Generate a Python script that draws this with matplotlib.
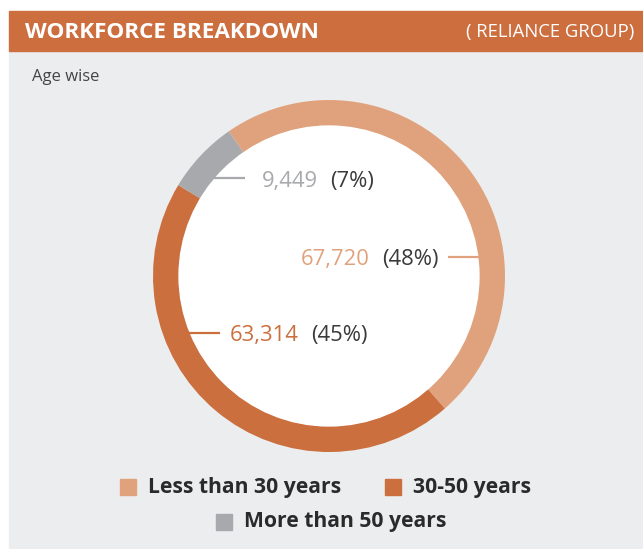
import numpy as np
import matplotlib.pyplot as plt
from matplotlib.patches import Rectangle, Circle
from matplotlib.offsetbox import TextArea, HPacker, AnnotationBbox

plt.rcParams['font.family'] = ['Open Sans', 'DejaVu Sans']

# Workforce by age group
groups = ['Less than 30 years', '30-50 years', 'More than 50 years']
headcount = [67720, 63314, 9449]
share_pct = [48, 45, 7]
colors = ['#E0A27C', '#CB6F3E', '#A7A9AC']

# where each label's leader line meets the ring (degrees) and which side the text sits on
label_angle = [7.3, 202.3, 139.2]
label_side = ['left', 'right', 'right']

W, H = 643, 549
fig = plt.figure(figsize=(W / 100, H / 100), dpi=100)
fig.patch.set_facecolor('white')

def px(x, y):
    return x / W, 1 - y / H

# background panel and header bar
fig.patches.append(Rectangle(px(9, 549), (W - 9) / W, (549 - 51) / H,
                             transform=fig.transFigure, color='#ECEDEF', zorder=-2))
fig.patches.append(Rectangle(px(9, 51), (W - 9) / W, 40 / H,
                             transform=fig.transFigure, color='#CC6E3E', zorder=-2))
fig.text(*px(25, 32), 'WORKFORCE BREAKDOWN', color='white', fontsize=16.2,
         fontweight='bold', va='center', ha='left')
fig.text(*px(634, 32), '( RELIANCE GROUP)', color='white', fontsize=13.3,
         va='center', ha='right')
fig.text(*px(32, 77), 'Age wise', color='#444444', fontsize=12, va='center', ha='left')

# donut
cx, cy, R = 329, 276, 176
ax = fig.add_axes([(cx - R) / W, 1 - (cy + R) / H, 2 * R / W, 2 * R / H])
ax.set_zorder(2)

ring = 0.148
ax.pie(headcount, colors=colors, radius=1, startangle=124.7, counterclock=False,
       wedgeprops=dict(width=ring, linewidth=0))
# pie() resets the limits, so set them afterwards
ax.set_xlim(-1, 1)
ax.set_ylim(-1, 1)
ax.set_aspect('equal')
ax.axis('off')
inner = 1 - ring
ax.add_patch(Circle((0, 0), inner, color='white', zorder=1))

line_len = 30 / R
text_drop = 3 / R
for val, pct, col, ang, side in zip(headcount, share_pct, colors, label_angle, label_side):
    a = np.deg2rad(ang)
    x0, y0 = inner * np.cos(a), inner * np.sin(a)
    if side == 'left':
        x1 = x0 - line_len
        tx, align = x1 - 9 / R, 1.0
    else:
        x1 = x0 + line_len
        gap = 16 / R if pct == 7 else 9 / R
        tx, align = x1 + gap, 0.0
    ax.plot([x0 + (0.02 if side == 'left' else -0.02), x1], [y0, y0], color=col, lw=1.6,
            solid_capstyle='butt', zorder=2)
    box = HPacker(children=[
        TextArea(f'{val:,}', textprops=dict(color=col, fontsize=15.8)),
        TextArea(f'({pct}%)', textprops=dict(color='#3A3A3A', fontsize=15.8)),
    ], align='center', pad=0, sep=9)
    ab = AnnotationBbox(box, (tx, y0 - text_drop), box_alignment=(align, 0.5),
                        frameon=False, pad=0, zorder=3)
    ax.add_artist(ab)

# legend, two centred rows
rows = [[0, 1], [2]]
row_y = [487, 522]
sq = 16
for idxs, yy in zip(rows, row_y):
    starts = [120, 385] if len(idxs) == 2 else [216]
    for i, x in zip(idxs, starts):
        fig.patches.append(Rectangle(px(x, yy + sq / 2), sq / W, sq / H,
                                     transform=fig.transFigure, color=colors[i], zorder=1))
        fig.text(*px(x + 28, yy), groups[i], color='#2A2A2A', fontsize=15.2,
                 fontweight='bold', va='center', ha='left')

fig.savefig('out.png', dpi=100)
